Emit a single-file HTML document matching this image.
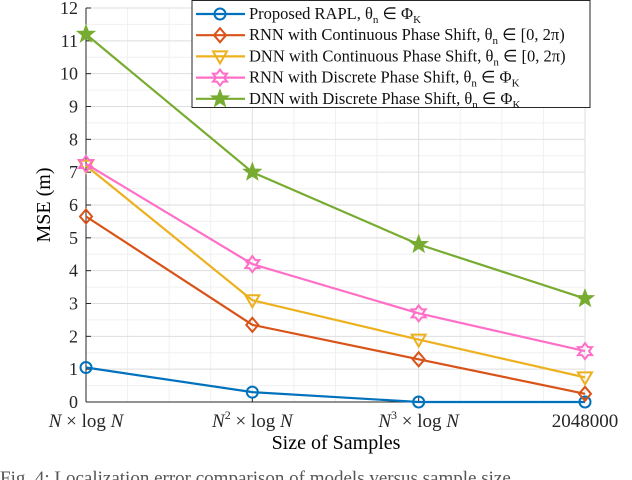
<!DOCTYPE html>
<html><head><meta charset="utf-8"><style>
body{margin:0;background:#fff;}
svg{display:block;font-family:"Liberation Serif",serif;}
</style></head><body>
<svg id="chart" width="632" height="480">
<g id="grid"></g>
<g id="axes"></g>
<g id="series"></g>
<text x="336" y="449" font-size="20" text-anchor="middle">Size of Samples</text>
<text transform="translate(50,205) rotate(-90)" font-size="20" text-anchor="middle">MSE (m)</text>
<text x="0" y="484" font-size="19" fill="#555">Fig. 4: Localization error comparison of models versus sample size</text>
<g id="legend"></g>
</svg>
<script>
const categories=["N×logN","N²×logN","N³×logN","2048000"];
const yTicks=[0,1,2,3,4,5,6,7,8,9,10,11,12];
const seriesNames=["Proposed RAPL","RNN with Continuous Phase Shift","DNN with Continuous Phase Shift","RNN with Discrete Phase Shift","DNN with Discrete Phase Shift"];
const rapl=[1.05,0.3,0.0,0.0];
const rnnCont=[5.65,2.35,1.3,0.25];
const dnnCont=[7.2,3.1,1.9,0.75];
const rnnDisc=[7.25,4.2,2.7,1.55];
const dnnDisc=[11.2,7.0,4.8,3.15];
const X0=86,X1=585,Y0=402,Y1=8;
const xs=i=>X0+i*(X1-X0)/(categories.length-1);
const ys=v=>Y0-v*(Y0-Y1)/12;
const NS="http://www.w3.org/2000/svg";
function mk(p,t,a){const e=document.createElementNS(NS,t);for(const k in a)e.setAttribute(k,a[k]);p.appendChild(e);return e;}
const grid=document.getElementById('grid'),axes=document.getElementById('axes'),ser=document.getElementById('series'),leg=document.getElementById('legend');
for(let i=0;i<categories.length-1;i++){for(let k=1;k<4;k++){const x=xs(i)+k*(xs(1)-xs(0))/4;const l=mk(grid,'line',{x1:x,x2:x,y1:Y1,y2:Y0,stroke:'#f0f0f0','stroke-width':1});

}}
for(let v=0;v<12;v+=0.5){if(v%1){const l=mk(grid,'line',{x1:X0,x2:X1,y1:ys(v),y2:ys(v),stroke:'#f0f0f0'});

}}
yTicks.forEach(v=>{const l=mk(grid,'line',{x1:X0,x2:X1,y1:ys(v),y2:ys(v),stroke:'#dedede'});


mk(axes,'line',{x1:X0,x2:X0+5,y1:ys(v),y2:ys(v),stroke:'#262626'});
const t=mk(axes,'text',{x:X0-8,y:ys(v)+6,'font-size':18,'text-anchor':'end',fill:'#262626'});t.textContent=v;

});
categories.forEach((c,i)=>{const x=xs(i);const l=mk(grid,'line',{x1:x,x2:x,y1:Y1,y2:Y0,stroke:'#dedede'});


mk(axes,'line',{x1:x,x2:x,y1:Y0,y2:Y0-5,stroke:'#262626'});
const t=mk(axes,'text',{x:x,y:Y0+25,'font-size':19,'text-anchor':'middle',fill:'#262626'});


if(i==0){t.innerHTML='<tspan font-style="italic">N</tspan> × log <tspan font-style="italic">N</tspan>';}
else if(i<3){t.innerHTML='<tspan font-style="italic">N</tspan><tspan font-size="12" dy="-8">'+(i+1)+'</tspan><tspan dy="8"> × log </tspan><tspan font-style="italic">N</tspan>';}
else t.textContent=c;});
mk(axes,'line',{x1:X0,x2:X0,y1:Y1,y2:Y0,stroke:'#262626'});
mk(axes,'line',{x1:X0,x2:X1,y1:Y0,y2:Y0,stroke:'#262626'});
const colors=['#0072BD','#D95319','#EDB120','#FF6EC7','#77AC30'];
const markers=['circle','diamond','tri','hex','star'];
const all=[rapl,rnnCont,dnnCont,rnnDisc,dnnDisc];
function marker(p,type,x,y,c){
 if(type=='circle')return mk(p,'circle',{cx:x,cy:y,r:5.5,fill:'none',stroke:c,'stroke-width':2});
 if(type=='diamond')return mk(p,'polygon',{points:`${x},${y-7} ${x+6},${y} ${x},${y+7} ${x-6},${y}`,fill:'none',stroke:c,'stroke-width':2});
 if(type=='tri')return mk(p,'polygon',{points:`${x-7},${y-5} ${x+7},${y-5} ${x},${y+7}`,fill:'none',stroke:c,'stroke-width':2});
 if(type=='hex')return mk(p,'polygon',{points:`${x},${y-8} ${x+3},${y-4} ${x+7},${y-4} ${x+4},${y} ${x+7},${y+4} ${x+3},${y+4} ${x},${y+8} ${x-3},${y+4} ${x-7},${y+4} ${x-4},${y} ${x-7},${y-4} ${x-3},${y-4}`,fill:'none',stroke:c,'stroke-width':2});
 let pts=[];for(let k=0;k<10;k++){const r=k%2?3.5:8.5,a=-Math.PI/2+k*Math.PI/5;pts.push((x+r*Math.cos(a)).toFixed(1)+','+(y+r*Math.sin(a)).toFixed(1));}
 return mk(p,'polygon',{points:pts.join(' '),fill:c,stroke:c,'stroke-width':1.5});
}
all.forEach((d,s)=>{const g=mk(ser,'g',{});


const pl=mk(g,'polyline',{points:d.map((v,i)=>xs(i)+','+ys(v)).join(' '),fill:'none',stroke:colors[s],'stroke-width':2.2});


d.forEach((v,i)=>{const m=marker(g,markers[s],xs(i),ys(v),colors[s]);

});});
mk(leg,'rect',{x:192,y:0.5,width:398,height:107,fill:'#fff',stroke:'#262626','stroke-width':1});
const sfx=[', θ<tspan font-size="11" dy="4">n</tspan><tspan dy="-4"> ∈ Φ</tspan><tspan font-size="11" dy="4">K</tspan>',', θ<tspan font-size="11" dy="4">n</tspan><tspan dy="-4"> ∈ [0, 2π)</tspan>',', θ<tspan font-size="11" dy="4">n</tspan><tspan dy="-4"> ∈ [0, 2π)</tspan>',', θ<tspan font-size="11" dy="4">n</tspan><tspan dy="-4"> ∈ Φ</tspan><tspan font-size="11" dy="4">K</tspan>',', θ<tspan font-size="11" dy="4">n</tspan><tspan dy="-4"> ∈ Φ</tspan><tspan font-size="11" dy="4">K</tspan>'];
seriesNames.forEach((n,s)=>{const y=14+s*21.2;const g=mk(leg,'g',{});


mk(g,'line',{x1:196,x2:245,y1:y,y2:y,stroke:colors[s],'stroke-width':2.2});
marker(g,markers[s],220,y,colors[s]);
const t=mk(g,'text',{x:249,y:y+5,'font-size':16.5,fill:'#111'});t.innerHTML=n+sfx[s];});
</script>
</body></html>
